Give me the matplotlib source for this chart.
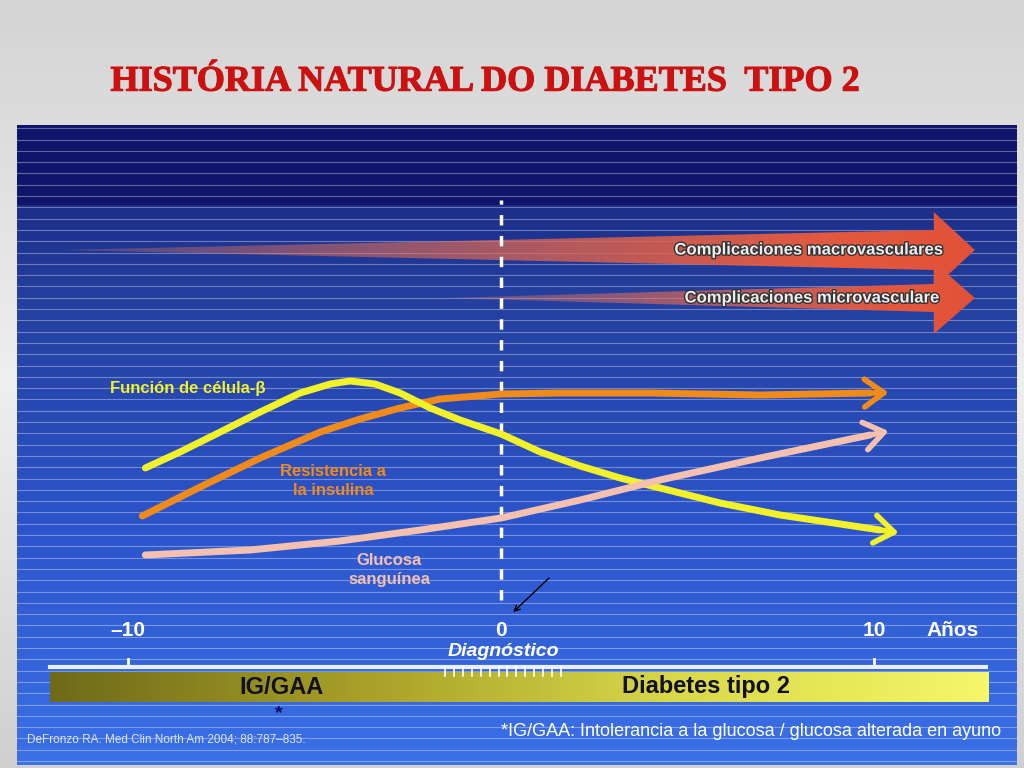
import numpy as np
import matplotlib
matplotlib.use("Agg")
import matplotlib.pyplot as plt
from matplotlib.patches import Polygon
from matplotlib.colors import LinearSegmentedColormap
import matplotlib.patheffects as pe

plt.rcParams["font.family"] = "Liberation Sans"

# ---- data (years vs arbitrary level) ----
beta_years = [-9.54, -8.61, -7.53, -6.46, -5.39, -4.58, -4.05, -3.38, -2.71, -1.90, -1.10, 0,
              1.05, 2.12, 3.19, 4.26, 5.87, 7.48, 9.09, 10.16]
beta_level = [297, 313, 333, 353, 372, 381, 384, 381, 372, 357, 345, 331,
              313, 299, 287, 277, 262, 250, 241, 235]
res_years = [-9.62, -8.07, -6.46, -4.85, -3.78, -2.71, -1.64, 0, 1.58, 3.99, 6.94, 9.89]
res_level = [249, 278, 307, 333, 346, 357, 366, 371, 372, 372, 370, 372]
glu_years = [-9.54, -6.73, -4.32, -2.17, 0, 2.12, 4.26, 6.94, 9.89]
glu_level = [210, 215, 224, 235, 247, 265, 285, 307, 330]
tick_years = [-10, 0, 10]
tick_labels = ["\u201310", "0", "10"]

fig = plt.figure(figsize=(10.24, 7.68), dpi=100)
bg = fig.add_axes([0, 0, 1, 1]); bg.axis("off")
g = np.linspace(0, 1, 256).reshape(-1, 1)
bg.imshow(g, cmap=LinearSegmentedColormap.from_list("g", ["#d4d4d4", "#efefef", "#d0d0d0"]),
          aspect="auto", extent=[0, 1, 0, 1])
bg.set_xlim(0, 1); bg.set_ylim(0, 1)
fig.text(0.474, 0.893, "HISTÓRIA NATURAL DO DIABETES  TIPO 2", color="#cc1111",
         fontsize=26, fontweight="bold", family="Liberation Serif", ha="center", va="center",
         path_effects=[pe.withStroke(linewidth=0.8, foreground="#cc1111")])

ax = fig.add_axes([17/1024, 3/768, 1000/1024, 640/768])
ax.set_xlim(-12.98, 13.83); ax.set_ylim(0, 640); ax.axis("off")
blue = LinearSegmentedColormap.from_list("b", ["#3b70e6", "#2c55cc", "#243f9e", "#10166a", "#10146a"])
grad = np.concatenate([np.linspace(0, 0.6, 560), np.full(80, 0.95)]).reshape(-1, 1)
ax.imshow(grad, cmap=blue, vmin=0, vmax=1, aspect="auto", origin="lower",
          extent=[-12.98, 13.83, 0, 640], zorder=0)
for yy in np.arange(4, 640, 11.3):
    ax.axhline(yy, color="white", lw=0.8, alpha=0.35, zorder=1)

def wedge(x0, xb, xt, yc, h, H):
    poly = Polygon([[x0, yc], [xb, yc + h], [xb, yc + H], [xt, yc], [xb, yc - H], [xb, yc - h]],
                   closed=True, fc="none", ec="none")
    ax.add_patch(poly)
    n = 300
    img = np.zeros((1, n, 4))
    t = np.linspace(0, 1, n)
    img[0, :, 0] = 0.93 - 0.05 * t
    img[0, :, 1] = 0.50 - 0.18 * t
    img[0, :, 2] = 0.40 - 0.18 * t
    img[0, :, 3] = np.clip(0.25 + 0.9 * t, 0, 1)
    im = ax.imshow(img, aspect="auto", extent=[x0, xt, yc - H, yc + H], zorder=2)
    im.set_clip_path(poly)
wedge(-11.8, 11.6, 12.7, 515, 20, 38)
wedge(-1.5, 11.6, 12.7, 467, 14, 36)
sh = [pe.withStroke(linewidth=2, foreground="#333333")]
ax.text(11.8, 515, "Complicaciones macrovasculares", color="#eeeeee", fontsize=12,
        fontweight="bold", ha="right", va="center", zorder=5, path_effects=sh)
ax.text(11.7, 467, "Complicaciones microvasculare", color="#eeeeee", fontsize=12,
        fontweight="bold", ha="right", va="center", zorder=5, path_effects=sh)

ax.plot([0, 0], [165, 565], color="white", lw=2.5, ls=(0, (3, 3)), zorder=3)

for xs, ys, c in [(res_years, res_level, "#f08a1a"), (beta_years, beta_level, "#f2f22a"),
                  (glu_years, glu_level, "#f4c0b0")]:
    ax.plot(xs, ys, color=c, lw=5, solid_capstyle="round", solid_joinstyle="round", zorder=4)
    ax.annotate("", xy=(xs[-1] + 0.5, ys[-1] + (ys[-1] - ys[-2]) * 0.5 / (xs[-1] - xs[-2])),
                xytext=(xs[-2], ys[-2]),
                arrowprops=dict(arrowstyle="->,head_length=1.4,head_width=1.0", color=c, lw=4,
                                shrinkA=0, shrinkB=0), zorder=4)

ax.text(-10.5, 376, "Función de célula-β", color="#f2f22a", fontsize=12, fontweight="bold",
        va="center", zorder=5)
ax.text(-4.5, 284, "Resistencia a\nla insulina", color="#f08a1a", fontsize=12, fontweight="bold",
        ha="center", va="center", zorder=5, linespacing=1.4)
ax.text(-3.0, 195, "Glucosa\nsanguínea", color="#f4c0b0", fontsize=12, fontweight="bold",
        ha="center", va="center", zorder=5, linespacing=1.4)

ax.annotate("", xy=(0.27, 151), xytext=(1.34, 189),
            arrowprops=dict(arrowstyle="->", color="black", lw=1), zorder=5)

for t, l in zip(tick_years, tick_labels):
    ax.text(t, 135, l, color="white", fontsize=15, fontweight="bold", ha="center", va="center")
    if t != 0:
        ax.plot([t, t], [98, 106], color="white", lw=2)
ax.text(12.1, 135, "Años", color="white", fontsize=15, fontweight="bold", ha="center", va="center")
ax.text(0.05, 114, "Diagnóstico", color="white", fontsize=14, fontweight="bold", style="italic",
        ha="center", va="center")
ax.plot([-12.1, 13.0], [98, 98], color="#e8f0ff", lw=3, zorder=3)
for hx in np.linspace(-1.5, 1.6, 14):
    ax.plot([hx, hx], [89, 98], color="white", lw=1.2, zorder=6)
bar = LinearSegmentedColormap.from_list("y", ["#6e6a1a", "#a8a028", "#d8d84a", "#f6f66a"])
ax.imshow(np.linspace(0, 1, 256).reshape(1, -1), cmap=bar, aspect="auto",
          extent=[-12.1, 13.06, 63, 93], zorder=5)
ax.text(-5.9, 77, "IG/GAA", color="#111122", fontsize=17, fontweight="bold", ha="center",
        va="center", zorder=6)
ax.text(5.5, 78, "Diabetes tipo 2", color="#111122", fontsize=17, fontweight="bold", ha="center",
        va="center", zorder=6)
ax.text(-5.95, 51, "*", color="#0a0a60", fontsize=14, fontweight="bold", ha="center", va="center")
ax.text(-12.7, 25, "DeFronzo RA. Med Clin North Am 2004; 88:787\u2013835.", color="#dde4ff",
        fontsize=8.5, va="center")
ax.text(13.4, 33, "*IG/GAA: Intolerancia a la glucosa / glucosa alterada en ayuno", color="white",
        fontsize=13, ha="right", va="center")

fig.savefig("out.png", dpi=100)
